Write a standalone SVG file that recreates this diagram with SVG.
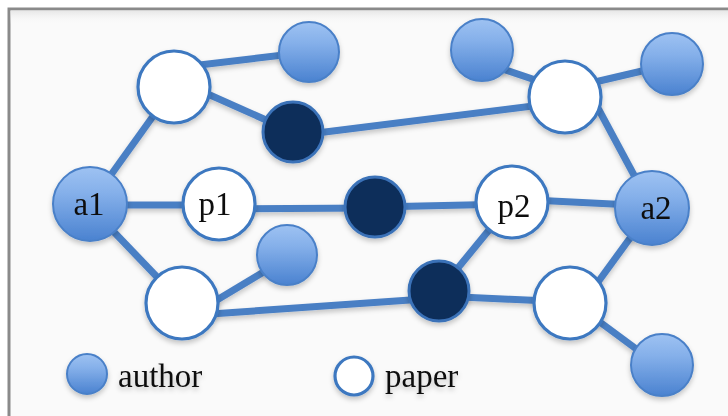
<svg xmlns="http://www.w3.org/2000/svg" width="728" height="416" viewBox="0 0 728 416">
  <defs>
    <linearGradient id="authorFill" x1="0" y1="0" x2="0" y2="1">
      <stop offset="0" stop-color="#9ec2f2"/>
      <stop offset="0.35" stop-color="#85b0ea"/>
      <stop offset="1" stop-color="#4a82d0"/>
    </linearGradient>
    <linearGradient id="topShade" x1="0" y1="0" x2="0" y2="1">
      <stop offset="0" stop-color="#e6e6e6"/>
      <stop offset="1" stop-color="#fafafa" stop-opacity="0"/>
    </linearGradient>
    <filter id="shadow" x="-30%" y="-30%" width="160%" height="170%">
      <feDropShadow dx="0" dy="3" stdDeviation="2.5" flood-color="#000" flood-opacity="0.22"/>
    </filter>
  </defs>
  <style>
    .edge { stroke: #4a7fc4; stroke-width: 7; stroke-linecap: butt; fill: none; }
    .author { fill: url(#authorFill); stroke: #4a80c8; stroke-width: 2; }
    .paper { fill: #ffffff; stroke: #3d78c0; stroke-width: 3.2; }
    .hub { fill: #0e2d5a; stroke: #3a72b8; stroke-width: 3; }
    .lbl { font-family: "Liberation Serif", "Times New Roman", serif; font-size: 33px; fill: #111; text-anchor: middle; }
    .legend { font-family: "Liberation Serif", "Times New Roman", serif; font-size: 33px; fill: #111; }
  </style>

  <!-- frame -->
  <rect x="0" y="0" width="728" height="416" fill="#ffffff"/>
  <rect x="9" y="9" width="730" height="420" fill="#fafafa" stroke="#8a8a8a" stroke-width="3"/>
  <rect x="10.5" y="10.5" width="720" height="14" fill="url(#topShade)"/>

  <!-- connectors -->
  <g id="edges" filter="url(#shadow)">
    <line class="edge" x1="90" y1="204" x2="174" y2="87"/>
    <line class="edge" x1="90" y1="205" x2="219" y2="205"/>
    <line class="edge" x1="90" y1="207" x2="182" y2="303"/>
    <line class="edge" x1="174" y1="68" x2="309" y2="52"/>
    <line class="edge" x1="174" y1="79" x2="293" y2="132"/>
    <line class="edge" x1="293" y1="136" x2="565" y2="102"/>
    <line class="edge" x1="482" y1="62" x2="565" y2="90"/>
    <line class="edge" x1="565" y1="89" x2="672" y2="64"/>
    <line class="edge" x1="592" y1="97" x2="642" y2="190"/>
    <line class="edge" x1="219" y1="209" x2="375" y2="208"/>
    <line class="edge" x1="375" y1="207" x2="512" y2="204"/>
    <line class="edge" x1="512" y1="199" x2="652" y2="206"/>
    <line class="edge" x1="512" y1="202" x2="439" y2="291"/>
    <line class="edge" x1="182" y1="321" x2="287" y2="258"/>
    <line class="edge" x1="182" y1="316" x2="439" y2="298"/>
    <line class="edge" x1="439" y1="296" x2="570" y2="302"/>
    <line class="edge" x1="590" y1="293" x2="652" y2="208"/>
    <line class="edge" x1="570" y1="300" x2="662" y2="368"/>
  </g>

  <!-- nodes -->
  <g id="a1" filter="url(#shadow)">
    <circle class="author" cx="90" cy="204" r="37"/>
    <text class="lbl" x="89" y="215">a1</text>
  </g>
  <g id="p1" filter="url(#shadow)">
    <circle class="paper" cx="219" cy="204" r="36"/>
    <text class="lbl" x="215" y="215">p1</text>
  </g>
  <g id="p2" filter="url(#shadow)">
    <circle class="paper" cx="512" cy="202" r="36"/>
    <text class="lbl" x="514" y="217">p2</text>
  </g>
  <g id="a2" filter="url(#shadow)">
    <circle class="author" cx="652" cy="208" r="37"/>
    <text class="lbl" x="656" y="219">a2</text>
  </g>
  <g id="hub-mid" filter="url(#shadow)">
    <circle class="hub" cx="375" cy="207" r="30"/>
  </g>
  <g id="hub-top" filter="url(#shadow)">
    <circle class="hub" cx="293" cy="132" r="30"/>
  </g>
  <g id="hub-bottom" filter="url(#shadow)">
    <circle class="hub" cx="439" cy="291" r="30"/>
  </g>
  <g id="paper-top-left" filter="url(#shadow)">
    <circle class="paper" cx="174" cy="87" r="36"/>
  </g>
  <g id="paper-top-right" filter="url(#shadow)">
    <circle class="paper" cx="565" cy="97" r="36"/>
  </g>
  <g id="paper-bottom-left" filter="url(#shadow)">
    <circle class="paper" cx="182" cy="303" r="36"/>
  </g>
  <g id="paper-bottom-right" filter="url(#shadow)">
    <circle class="paper" cx="570" cy="303" r="36"/>
  </g>
  <g id="author-top-left" filter="url(#shadow)">
    <circle class="author" cx="309" cy="52" r="30"/>
  </g>
  <g id="author-top-mid" filter="url(#shadow)">
    <circle class="author" cx="482" cy="50" r="31"/>
  </g>
  <g id="author-top-right" filter="url(#shadow)">
    <circle class="author" cx="672" cy="64" r="31"/>
  </g>
  <g id="author-bottom-left" filter="url(#shadow)">
    <circle class="author" cx="287" cy="255" r="30"/>
  </g>
  <g id="author-bottom-right" filter="url(#shadow)">
    <circle class="author" cx="662" cy="365" r="31"/>
  </g>

  <!-- legend -->
  <g id="legend-author" filter="url(#shadow)">
    <circle class="author" cx="87" cy="374" r="20"/>
    <text class="legend" x="118" y="387">author</text>
  </g>
  <g id="legend-paper" filter="url(#shadow)">
    <circle class="paper" cx="354" cy="376" r="19"/>
    <text class="legend" x="385" y="387">paper</text>
  </g>
</svg>
